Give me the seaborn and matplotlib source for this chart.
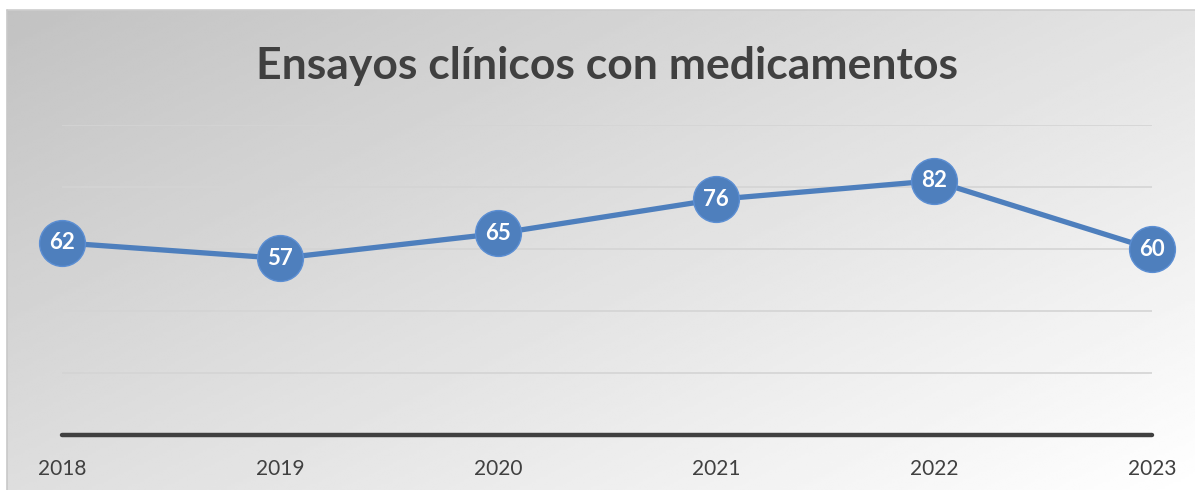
import matplotlib.pyplot as plt
import numpy as np
import pandas as pd
import seaborn as sns

years = ["2018", "2019", "2020", "2021", "2022", "2023"]
ensayos = [62, 57, 65, 76, 82, 60]
title = "Ensayos clínicos con medicamentos"

df = pd.DataFrame({"pos": range(len(years)), "ensayos": ensayos})

sns.set_theme(style="white")
plt.rcParams["font.family"] = ["Lato", "DejaVu Sans"]

W, H = 1195, 490
fig = plt.figure(figsize=(W / 100, H / 100), dpi=100)

# diagonal grey gradient behind the chart area (frame starts a bit inside)
bg = fig.add_axes([7 / W, 0, 1 - 7 / W, (H - 10) / H])
u = np.linspace(0, 1, 300)[None, :]
v = np.linspace(0, 1, 200)[:, None]
grad = np.clip((194 + 33 * u + 28 * v) / 255, 0, 1)
bg.imshow(grad, cmap="gray", vmin=0, vmax=1, aspect="auto", interpolation="bilinear")
bg.set_axis_off()
fig.add_artist(plt.Line2D([7 / W, 1], [(H - 10) / H] * 2, color="#cdcdcd", lw=1.2))
fig.add_artist(plt.Line2D([7 / W] * 2, [0, (H - 10) / H], color="#c8c8c8", lw=1.2))

ax = fig.add_axes([62 / W, 55 / H, (1152 - 62) / W, (435 - 125) / H])
ax.patch.set_alpha(0)

for yv in range(20, 101, 20):
    ax.axhline(yv, color="#d4d4d4", lw=1.2, zorder=1)
ax.axhline(0, color="#404040", lw=3.2, zorder=2, clip_on=False)

sns.lineplot(data=df, x="pos", y="ensayos", ax=ax, color="#4e7fbd", lw=3.8,
             marker="o", markersize=33, markerfacecolor="#4e7fbd",
             markeredgecolor="#5b8ed3", markeredgewidth=1.0, zorder=3,
             clip_on=False)

for i, val in enumerate(ensayos):
    ax.text(i, val, str(val), ha="center", va="center", color="white",
            fontsize=16, fontweight="bold", zorder=4)

ax.set_xlim(0, len(years) - 1)
ax.set_ylim(0, 100)
ax.set_xticks(range(len(years)))
ax.set_xticklabels(years, fontsize=15, color="#404040")
ax.tick_params(axis="x", length=0, pad=17)
ax.set_yticks([])
ax.set_xlabel("")
ax.set_ylabel("")
for s in ax.spines.values():
    s.set_visible(False)

fig.text(607 / W, 1 - 66 / H, title, ha="center", va="center",
         fontsize=32, fontweight="bold", color="#404040")

fig.savefig("out.png", dpi=100)
